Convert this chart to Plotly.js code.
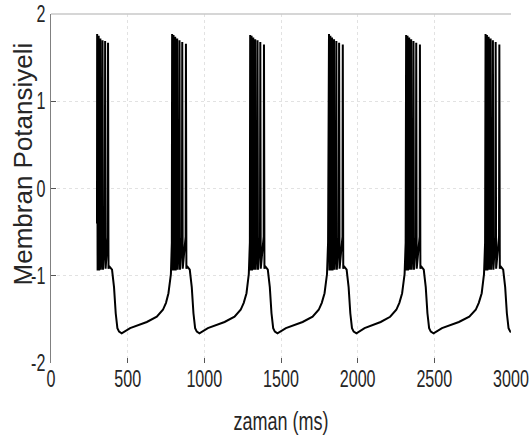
<!DOCTYPE html>
<html>
<head>
<meta charset="utf-8">
<script src="https://cdn.plot.ly/plotly-3.0.1.min.js"></script>
<style>
  html, body { margin: 0; padding: 0; background: #ffffff; }
  #chart { width: 530px; height: 439px; }
</style>
</head>
<body>
<div id="chart"></div>
<script>
// Membrane potential trace, burst by burst (t in ms)
var burst1T = [300, 301, 304, 309, 311, 314, 320, 322, 325, 334, 336, 339, 351, 353, 356, 370, 372, 375, 379, 398, 411, 422, 433, 444, 461, 516, 625, 690, 730, 750, 766, 782, 788];
var burst1V = [-0.40, 1.77, -0.94, -0.60, 1.75, -0.94, -0.58, 1.72, -0.93, -0.57, 1.70, -0.93, -0.56, 1.69, -0.92, -0.56, 1.67, -0.92, -0.89, -0.93, -1.13, -1.43, -1.60, -1.64, -1.66, -1.60, -1.53, -1.47, -1.39, -1.31, -1.20, -0.98, -0.62];

var burst2T = [790, 793, 797, 799, 802, 808, 810, 813, 821, 823, 826, 836, 838, 841, 854, 856, 859, 878, 880, 883, 887, 905, 918, 929, 940, 951, 968, 1023, 1132, 1197, 1237, 1257, 1275, 1290, 1297];
var burst2V = [1.77, -0.94, -0.60, 1.76, -0.94, -0.58, 1.74, -0.94, -0.57, 1.72, -0.93, -0.56, 1.70, -0.93, -0.56, 1.68, -0.92, -0.55, 1.66, -0.92, -0.89, -0.93, -1.13, -1.43, -1.60, -1.64, -1.66, -1.60, -1.53, -1.47, -1.39, -1.31, -1.20, -0.98, -0.62];

var burst3T = [1299, 1302, 1306, 1308, 1311, 1317, 1319, 1322, 1330, 1332, 1335, 1345, 1347, 1350, 1363, 1365, 1368, 1387, 1389, 1392, 1396, 1414, 1427, 1438, 1449, 1460, 1477, 1532, 1641, 1706, 1746, 1766, 1784, 1800, 1807];
var burst3V = [1.76, -0.94, -0.60, 1.75, -0.94, -0.58, 1.73, -0.93, -0.57, 1.71, -0.93, -0.56, 1.70, -0.93, -0.56, 1.68, -0.92, -0.55, 1.65, -0.92, -0.89, -0.93, -1.13, -1.43, -1.60, -1.64, -1.66, -1.60, -1.53, -1.47, -1.39, -1.31, -1.20, -0.98, -0.62];

var burst4T = [1813, 1816, 1820, 1822, 1825, 1831, 1833, 1836, 1844, 1846, 1849, 1859, 1861, 1864, 1877, 1879, 1882, 1901, 1903, 1906, 1910, 1928, 1941, 1952, 1963, 1974, 1992, 2045, 2150, 2212, 2252, 2272, 2290, 2306, 2313];
var burst4V = [1.77, -0.94, -0.60, 1.75, -0.94, -0.58, 1.73, -0.94, -0.57, 1.71, -0.93, -0.56, 1.69, -0.93, -0.56, 1.67, -0.92, -0.55, 1.65, -0.92, -0.89, -0.93, -1.13, -1.43, -1.60, -1.64, -1.66, -1.60, -1.53, -1.47, -1.39, -1.31, -1.20, -0.98, -0.62];

var burst5T = [2316, 2319, 2323, 2325, 2328, 2334, 2336, 2339, 2347, 2349, 2352, 2362, 2364, 2367, 2380, 2382, 2385, 2404, 2406, 2409, 2413, 2431, 2444, 2455, 2466, 2477, 2495, 2550, 2660, 2728, 2770, 2790, 2809, 2824, 2831];
var burst5V = [1.76, -0.94, -0.60, 1.75, -0.94, -0.58, 1.73, -0.93, -0.57, 1.71, -0.93, -0.56, 1.69, -0.93, -0.56, 1.67, -0.92, -0.55, 1.65, -0.92, -0.89, -0.93, -1.13, -1.43, -1.60, -1.64, -1.66, -1.60, -1.53, -1.47, -1.39, -1.31, -1.20, -0.98, -0.62];

var burst6T = [2834, 2837, 2841, 2843, 2846, 2852, 2854, 2857, 2865, 2867, 2870, 2880, 2882, 2885, 2898, 2900, 2903, 2922, 2924, 2927, 2931, 2949, 2962, 2973, 2984, 2995, 3000];
var burst6V = [1.77, -0.94, -0.60, 1.76, -0.94, -0.58, 1.74, -0.93, -0.57, 1.72, -0.93, -0.56, 1.70, -0.93, -0.56, 1.68, -0.92, -0.55, 1.65, -0.92, -0.89, -0.93, -1.13, -1.43, -1.60, -1.64, -1.645];

var xTickVals = [0, 500, 1000, 1500, 2000, 2500, 3000];
var xTickText = ['0', '500', '1000', '1500', '2000', '2500', '3000'];
var yTickVals = [-2, -1, 0, 1, 2];
var yTickText = ['-2', '-1', '0', '1', '2'];

var xTitle = 'zaman (ms)';
var yTitle = 'Membran Potansiyeli';

var t = [].concat(burst1T, burst2T, burst3T, burst4T, burst5T, burst6T);
var v = [].concat(burst1V, burst2V, burst3V, burst4V, burst5V, burst6V);

var font = 'Liberation Sans, Arial, Helvetica, sans-serif';

var trace = {
  x: t, y: v,
  type: 'scatter', mode: 'lines',
  line: { color: '#000000', width: 2 },
  hoverinfo: 'skip', showlegend: false
};

var layout = {
  width: 530, height: 439,
  margin: { l: 51, r: 19, t: 14, b: 76 },
  paper_bgcolor: '#ffffff', plot_bgcolor: '#ffffff',
  showlegend: false,
  xaxis: {
    range: [0, 3000],
    tickvals: xTickVals, ticktext: xTickText,
    ticks: 'inside', ticklen: 5, tickcolor: '#555555', tickwidth: 1,
    showgrid: true, gridcolor: '#e2e2e2', griddash: 'dot', gridwidth: 1,
    zeroline: false, showline: false,
    ticklabeloverflow: 'allow',
    tickfont: { family: font, size: 23, color: '#262626' },
    title: { text: xTitle, font: { family: font, size: 25, color: '#262626' }, standoff: 21 },
    automargin: false, fixedrange: true
  },
  yaxis: {
    range: [-2, 2],
    tickvals: yTickVals, ticktext: yTickText,
    ticks: 'inside', ticklen: 5, tickcolor: '#555555', tickwidth: 1,
    showgrid: true, gridcolor: '#e2e2e2', griddash: 'dot', gridwidth: 1,
    zeroline: false, showline: true, linecolor: '#808080', linewidth: 1,
    ticklabeloverflow: 'allow',
    tickfont: { family: font, size: 23, color: '#262626' },
    automargin: false, fixedrange: true
  },
  shapes: [
    { type: 'line', xref: 'paper', yref: 'paper', x0: 0, x1: 1, y0: 1, y1: 1,
      line: { color: '#c8c8c8', width: 1.5 } }
  ],
  annotations: [
    { text: yTitle, textangle: -90, xref: 'paper', yref: 'paper',
      x: -0.06, y: 0.57, xanchor: 'center', yanchor: 'middle', showarrow: false,
      font: { family: font, size: 26, color: '#262626' } }
  ]
};

// squeeze text horizontally about its anchor point (the reference uses condensed lettering)
function squeeze(selector, s) {
  document.querySelectorAll(selector).forEach(function (el) {
    var ax = parseFloat(el.getAttribute('x')) || 0;
    var tr = el.getAttribute('transform') || '';
    el.setAttribute('transform', tr + ' translate(' + ax + ',0) scale(' + s + ',1) translate(' + (-ax) + ',0)');
  });
}

Plotly.newPlot('chart', [trace], layout, { staticPlot: true, displayModeBar: false }).then(function () {
  squeeze('#chart .xtick text', 0.7);
  squeeze('#chart .ytick text', 0.7);
  squeeze('#chart .g-xtitle text', 0.72);
});
</script>
</body>
</html>
